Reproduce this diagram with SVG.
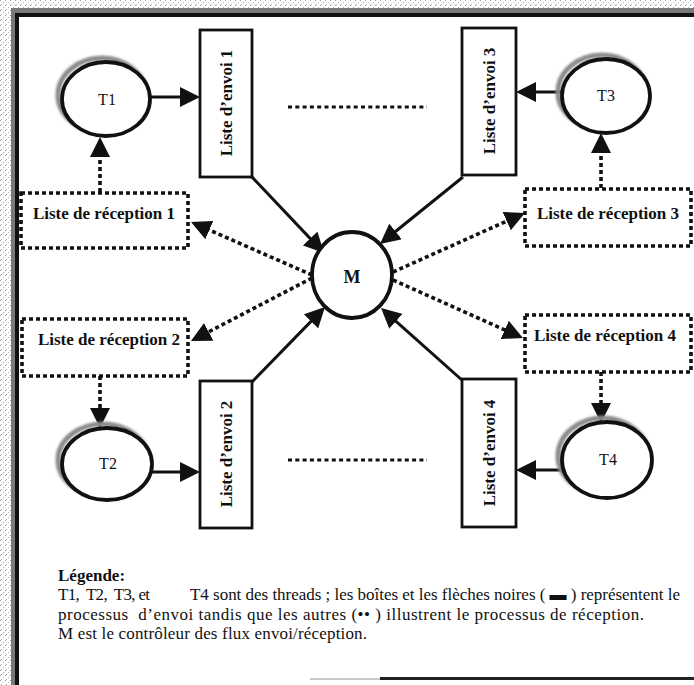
<svg xmlns="http://www.w3.org/2000/svg" width="694" height="685" viewBox="0 0 694 685">
<defs>
<pattern id="speck" width="5" height="5" patternUnits="userSpaceOnUse">
<rect x="0" y="0" width="1" height="1" fill="#9a9a9a"/>
<rect x="3" y="2" width="1" height="1" fill="#b5b5b5"/>
<rect x="1" y="4" width="1" height="1" fill="#a8a8a8"/>
</pattern>
<filter id="blur" x="-20%" y="-20%" width="140%" height="140%"><feGaussianBlur stdDeviation="1.3"/></filter>
<marker id="ah" viewBox="0 0 20 20" markerWidth="20" markerHeight="20" refX="16" refY="10" orient="auto" markerUnits="userSpaceOnUse">
<path d="M0,0 L20,10 L0,20 z" fill="#111"/>
</marker>
</defs>
<style>
.thread{fill:#fff;stroke:#111;stroke-width:3.8}
.shadow{fill:none;stroke:#8a8a8a;stroke-width:5;filter:url(#blur)}
.envoi{fill:#fff;stroke:#111;stroke-width:2.8}
.recep{fill:#fff;stroke:#111;stroke-width:3.6;stroke-dasharray:4 3}
.lbl{font-family:"Liberation Serif","Times New Roman",serif;fill:#111}
.b{font-weight:bold}
.leg{font-family:"Liberation Serif","Times New Roman",serif;fill:#111;font-size:17px}
.solid{fill:none;stroke:#111;stroke-width:3;marker-end:url(#ah)}
.dot{fill:none;stroke:#111;stroke-width:3.6;stroke-dasharray:4 3;marker-end:url(#ah)}
.ell{fill:none;stroke:#111;stroke-width:3.2;stroke-dasharray:4 3.3}
</style>
<rect width="694" height="685" fill="#fff"/>
<g id="frame">
<rect x="0" y="0" width="694" height="9" fill="url(#speck)"/>
<rect x="0" y="0" width="11" height="685" fill="url(#speck)"/>
<rect x="11" y="8" width="683" height="6" fill="#7a7a7a"/>
<rect x="11" y="8" width="5" height="677" fill="#7a7a7a"/>
<rect x="15" y="13" width="679" height="4" fill="#111"/>
<rect x="15" y="13" width="4" height="672" fill="#111"/>
<rect x="310" y="678" width="70" height="2" fill="#c8c8c8"/>
<rect x="380" y="677" width="314" height="3" fill="#222"/>
</g>
<g id="connectors">
<path class="solid" d="M150,97 L196,97"/>
<path class="solid" d="M562,92 L520,92"/>
<path class="solid" d="M152,472 L196,472"/>
<path class="solid" d="M562,470 L520,470"/>
<path class="solid" d="M252,177 L321.2,250.1"/>
<path class="solid" d="M463,177 L383.1,241.5"/>
<path class="solid" d="M252,382 L322.2,309.9"/>
<path class="solid" d="M463,381 L384,310.7"/>
<path class="dot" d="M312,275 L194.7,223.6"/>
<path class="dot" d="M312,278 L194.5,339.2"/>
<path class="dot" d="M393,272 L521.3,214.6"/>
<path class="dot" d="M393,280 L519.3,336.4"/>
<path class="dot" d="M100,192 L100,141"/>
<path class="dot" d="M601,188 L601,137"/>
<path class="dot" d="M100,376 L100,424"/>
<path class="dot" d="M601,372 L601,419"/>
</g>
<g id="ellipsis">
<path class="ell" d="M288,107 L427,107"/>
<path class="ell" d="M288,460 L427,460"/>
</g>
<g id="T1">
<ellipse class="shadow" cx="102" cy="95" rx="44" ry="37"/>
<ellipse class="thread" cx="106" cy="99" rx="44" ry="37"/>
<text class="lbl" x="107" y="105" font-size="16" text-anchor="middle">T1</text>
</g>
<g id="T3">
<ellipse class="shadow" cx="602" cy="92" rx="44" ry="37"/>
<ellipse class="thread" cx="606" cy="96" rx="44" ry="37"/>
<text class="lbl" x="606" y="101" font-size="16" text-anchor="middle">T3</text>
</g>
<g id="T2">
<ellipse class="shadow" cx="103" cy="460" rx="45" ry="36"/>
<ellipse class="thread" cx="107" cy="464" rx="45" ry="36"/>
<text class="lbl" x="108" y="469" font-size="16" text-anchor="middle">T2</text>
</g>
<g id="T4">
<ellipse class="shadow" cx="603" cy="456" rx="45" ry="38"/>
<ellipse class="thread" cx="607" cy="460" rx="45" ry="38"/>
<text class="lbl" x="608" y="465" font-size="16" text-anchor="middle">T4</text>
</g>
<g id="M">
<ellipse class="thread" cx="352" cy="275" rx="40" ry="43"/>
<text class="lbl b" x="352" y="283" font-size="18" text-anchor="middle">M</text>
</g>
<g id="envoi1">
<rect class="envoi" x="200" y="30" width="52" height="147"/>
<text class="lbl b" transform="translate(232,103) rotate(-90)" font-size="17" text-anchor="middle">Liste d’envoi 1</text>
</g>
<g id="envoi3">
<rect class="envoi" x="462" y="28" width="54" height="147"/>
<text class="lbl b" transform="translate(495,101) rotate(-90)" font-size="17" text-anchor="middle">Liste d’envoi 3</text>
</g>
<g id="envoi2">
<rect class="envoi" x="200" y="381" width="52" height="147"/>
<text class="lbl b" transform="translate(232,454) rotate(-90)" font-size="17" text-anchor="middle">Liste d’envoi 2</text>
</g>
<g id="envoi4">
<rect class="envoi" x="462" y="379" width="54" height="148"/>
<text class="lbl b" transform="translate(495,453) rotate(-90)" font-size="17" text-anchor="middle">Liste d’envoi 4</text>
</g>
<g id="recep1">
<rect class="recep" x="21" y="193" width="167" height="55"/>
<text class="lbl b" x="104" y="219" font-size="17" text-anchor="middle">Liste de réception 1</text>
</g>
<g id="recep3">
<rect class="recep" x="525" y="189" width="166" height="57"/>
<text class="lbl b" x="608" y="219" font-size="17" text-anchor="middle">Liste de réception 3</text>
</g>
<g id="recep2">
<rect class="recep" x="22" y="319" width="166" height="57"/>
<text class="lbl b" x="109" y="345" font-size="17" text-anchor="middle">Liste de réception 2</text>
</g>
<g id="recep4">
<rect class="recep" x="525" y="315" width="166" height="57"/>
<text class="lbl b" x="605" y="341" font-size="17" text-anchor="middle">Liste de réception 4</text>
</g>
<g id="legend">
<text class="leg b" x="58" y="581">Légende:</text>
<text class="leg" x="58" y="600" textLength="92" lengthAdjust="spacing" xml:space="preserve">T1,  T2,  T3, et</text>
<text class="leg" x="190" y="600" textLength="490" lengthAdjust="spacing">T4 sont des threads ; les boîtes et les flèches noires ( ▬ ) représentent le</text>
<text class="leg" x="58" y="620" textLength="586" lengthAdjust="spacing" xml:space="preserve">processus  d’envoi tandis que les autres (•• ) illustrent le processus de réception.</text>
<text class="leg" x="58" y="639" textLength="309" lengthAdjust="spacing">M est le contrôleur des flux envoi/réception.</text>
</g>
</svg>
